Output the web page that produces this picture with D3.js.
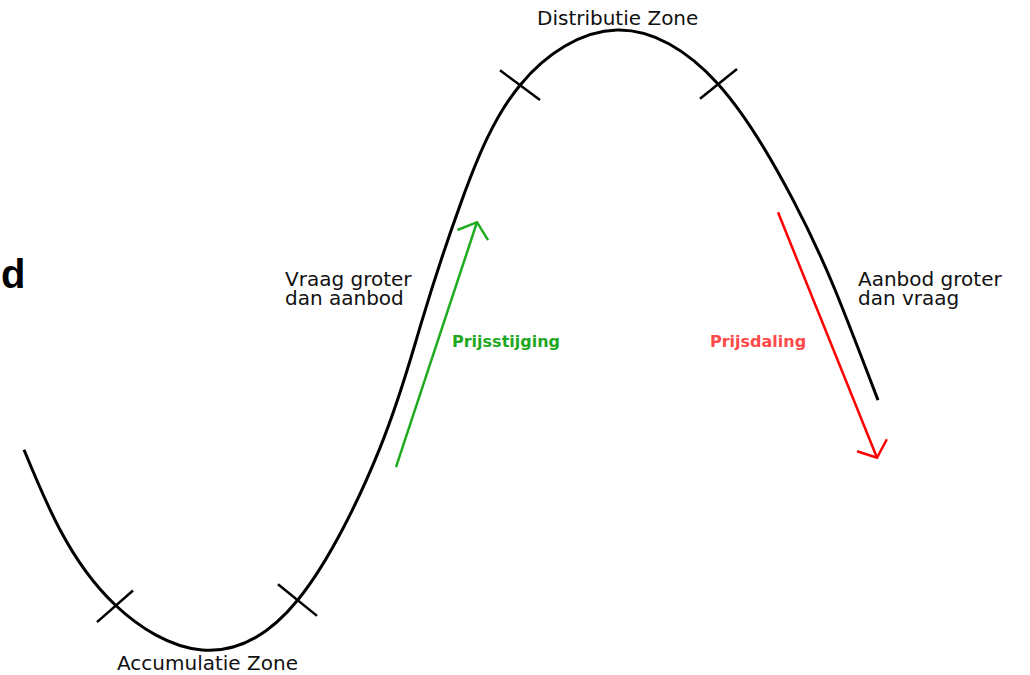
<!DOCTYPE html>
<html>
<head>
<meta charset="utf-8">
<script src="https://cdn.jsdelivr.net/npm/d3@7"></script>
<style>
  html, body { margin: 0; padding: 0; background: #fff; }
  svg { display: block; }
  .label { font-family: "DejaVu Sans", Verdana, sans-serif; font-size: 20px; fill: #111; }
  .trend { font-family: "DejaVu Sans", Verdana, sans-serif; font-size: 16px; font-weight: bold; }
</style>
</head>
<body>
<svg id="chart"></svg>
<script>
// --- Data ---
// tijd (x) en prijs (y, 0 = bodem, 100 = top) van de marktcyclus
const cycleTime  = [24, 60, 115, 202, 298, 380, 421, 462, 520, 617, 718, 793, 835, 878];
const cyclePrice = [32.3, 19.4, 7.3, 0, 8.1, 32.6, 52.6, 72.6, 91.1, 100, 91.3, 72.6, 58.1, 40.3];

// kruisjes op de overgangen tussen de fases: [t1, p1, t2, p2]
const phaseMarks = [
  [97, 4.5, 133, 9.6],
  [278, 10.6, 317, 5.5],
  [500, 93.5, 540, 88.7],
  [700, 88.9, 737, 93.7]
];

// trendpijlen: [tStart, pStart, tEind, pEind]
const trendUp   = [396, 29.5, 477, 69.0];
const trendDown = [778, 70.6, 877, 31.0];

const zoneLabels   = ["Distributie Zone", "Accumulatie Zone"];
const demandLabel  = ["Vraag groter", "dan aanbod"];
const supplyLabel  = ["Aanbod groter", "dan vraag"];
const trendLabels  = ["Prijsstijging", "Prijsdaling"];
const cornerLabel  = "d";

// --- Setup ---
const width = 1030, height = 675;
const svg = d3.select("#chart").attr("width", width).attr("height", height);

const x = d3.scaleLinear().domain([0, 1030]).range([0, 1030]);
const y = d3.scaleLinear().domain([0, 100]).range([650, 30]);

// --- Curve ---
const points = cycleTime.map((t, i) => [t, cyclePrice[i]]);
const line = d3.line()
  .x(d => x(d[0]))
  .y(d => y(d[1]))
  .curve(d3.curveNatural);

svg.append("path")
  .datum(points)
  .attr("d", line)
  .attr("fill", "none")
  .attr("stroke", "#000")
  .attr("stroke-width", 3);

// --- Phase marks ---
svg.selectAll(".mark")
  .data(phaseMarks)
  .enter()
  .append("line")
  .attr("class", "mark")
  .attr("x1", d => x(d[0])).attr("y1", d => y(d[1]))
  .attr("x2", d => x(d[2])).attr("y2", d => y(d[3]))
  .attr("stroke", "#000")
  .attr("stroke-width", 2.5);

// --- Arrows ---
function drawArrow(a, color) {
  const x1 = x(a[0]), y1 = y(a[1]), x2 = x(a[2]), y2 = y(a[3]);
  const ang = Math.atan2(y1 - y2, x1 - x2); // terug naar de staart
  const len = 21, spread = 50 * Math.PI / 180;
  const g = svg.append("g")
    .attr("fill", "none")
    .attr("stroke", color)
    .attr("stroke-width", 2.5);
  g.append("line").attr("x1", x1).attr("y1", y1).attr("x2", x2).attr("y2", y2);
  g.append("path").attr("d", d3.line()([
    [x2 + len * Math.cos(ang + spread), y2 + len * Math.sin(ang + spread)],
    [x2, y2],
    [x2 + len * Math.cos(ang - spread), y2 + len * Math.sin(ang - spread)]
  ]));
}
drawArrow(trendUp, "#1fab1f");
drawArrow(trendDown, "#ff0000");

// --- Labels ---
svg.append("text").attr("class", "label")
  .attr("x", 537).attr("y", 25).text(zoneLabels[0]);
svg.append("text").attr("class", "label")
  .attr("x", 117).attr("y", 670).text(zoneLabels[1]);

svg.append("text").attr("class", "label")
  .attr("x", 285).attr("y", 286)
  .selectAll("tspan").data(demandLabel).enter().append("tspan")
  .attr("x", 285).attr("dy", (d, i) => i ? 19 : 0).text(d => d);

svg.append("text").attr("class", "label")
  .attr("x", 858).attr("y", 286)
  .selectAll("tspan").data(supplyLabel).enter().append("tspan")
  .attr("x", 858).attr("dy", (d, i) => i ? 19 : 0).text(d => d);

svg.append("text").attr("class", "trend")
  .attr("x", 452).attr("y", 347).attr("fill", "#1fa81f").text(trendLabels[0]);
svg.append("text").attr("class", "trend")
  .attr("x", 710).attr("y", 347).attr("fill", "#ff4a4a").text(trendLabels[1]);

svg.append("text")
  .attr("x", 1).attr("y", 288)
  .style("font-family", "'Liberation Sans', Arial, sans-serif")
  .style("font-size", "40px").style("font-weight", "bold")
  .attr("fill", "#000")
  .text(cornerLabel);
</script>
</body>
</html>
